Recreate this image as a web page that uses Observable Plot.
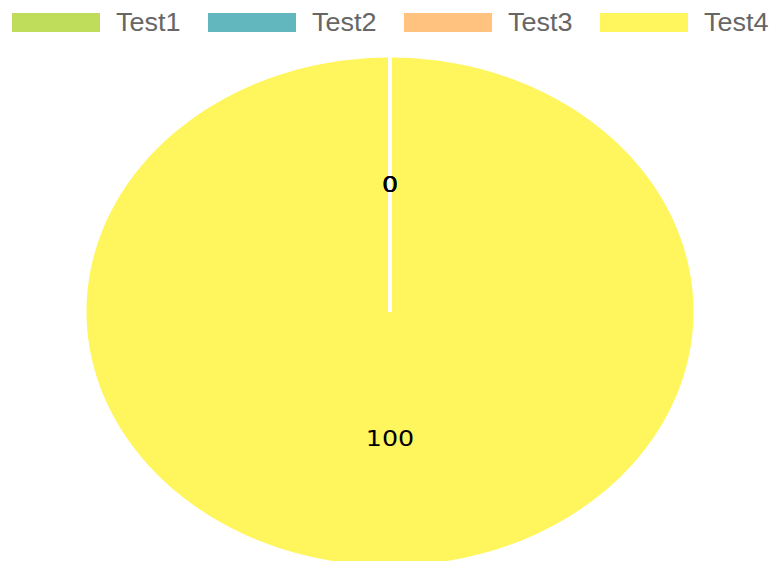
<!DOCTYPE html>
<html><head><meta charset="utf-8">
<script src="https://cdn.jsdelivr.net/npm/d3@7"></script>
<script src="https://cdn.jsdelivr.net/npm/@observablehq/plot@0.6"></script>
<style>
body{margin:0;background:#fff;width:773px;height:561px;overflow:hidden;font-family:"Liberation Sans",Arial,sans-serif}
#legend{height:45px;position:relative}
.item{position:absolute;top:13px;display:flex;align-items:center;height:19px}
.sw{width:88px;height:19px}
.lb{margin-left:16px;font-size:25px;color:#666;line-height:19px;white-space:nowrap;display:inline-block;transform:scaleX(1.08);transform-origin:0 50%}
#chart svg{display:block}
</style></head><body>
<div id="legend"></div>
<div id="chart"></div>
<script>
const categories = ["Test1", "Test2", "Test3", "Test4"];
const values = [0, 0, 0, 100];
const colors = ["#bfdd5b", "#62b7be", "#ffc37f", "#fff55d"];

// legend
const legend = document.getElementById("legend");
categories.forEach((c, i) => {
  const it = document.createElement("div");
  it.className = "item";
  it.style.left = (12 + i * 196) + "px";
  it.innerHTML = `<div class="sw" style="background:${colors[i]}"></div><span class="lb">${c}</span>`;
  legend.appendChild(it);
});

const data = categories.map((c, i) => ({key: c, value: values[i]}));
const arcs = d3.pie().sort(null).value(d => d.value).startAngle(0).endAngle(2 * Math.PI)(data);

// polygon points for each slice (angle measured clockwise from top)
const pts = [];
arcs.forEach(a => {
  const k = a.data.key;
  pts.push({key: k, x: 0, y: 0});
  const span = a.endAngle - a.startAngle;
  const n = Math.max(2, Math.ceil(span / (2 * Math.PI) * 360));
  for (let j = 0; j <= n; j++) {
    const t = a.startAngle + span * j / n;
    pts.push({key: k, x: Math.sin(t), y: Math.cos(t)});
  }
  pts.push({key: k, x: 0, y: 0});
});

const seps = arcs.map(a => ({x1: 0, y1: 0, x2: Math.sin(a.startAngle), y2: Math.cos(a.startAngle)}));
const labels = arcs.map(a => {
  const m = (a.startAngle + a.endAngle) / 2;
  return {x: 0.5 * Math.sin(m), y: 0.5 * Math.cos(m), text: String(a.data.value)};
});

const chart = Plot.plot({
  width: 773,
  height: 516,
  margin: 0,
  x: {domain: [-1, 1], range: [86, 693], axis: null},
  y: {domain: [-1, 1], range: [520, 12], axis: null},
  color: {domain: categories, range: colors},
  style: {background: "#fff", overflow: "visible"},
  marks: [
    Plot.line(pts, {x: "x", y: "y", z: "key", fill: "key", stroke: null, curve: "linear"}),
    Plot.link(seps, {x1: "x1", y1: "y1", x2: "x2", y2: "y2", stroke: "#fff", strokeWidth: 4}),
    Plot.text(labels, {x: "x", y: "y", text: "text", fill: "#000", fontSize: 22, fontFamily: "DejaVu Sans, sans-serif"})
  ]
});
document.getElementById("chart").appendChild(chart);
// stretch label glyphs horizontally about their own centre, keeping positions
chart.querySelectorAll("g[aria-label=text] text").forEach(t => {
  const b = t.getBBox();
  const cx = b.x + b.width / 2, cy = b.y + b.height / 2;
  const tr = t.getAttribute("transform") || "";
  t.setAttribute("transform", `${tr} translate(${cx},${cy}) scale(1.15,1) translate(${-cx},${-cy})`.trim());
});
</script>
</body></html>
